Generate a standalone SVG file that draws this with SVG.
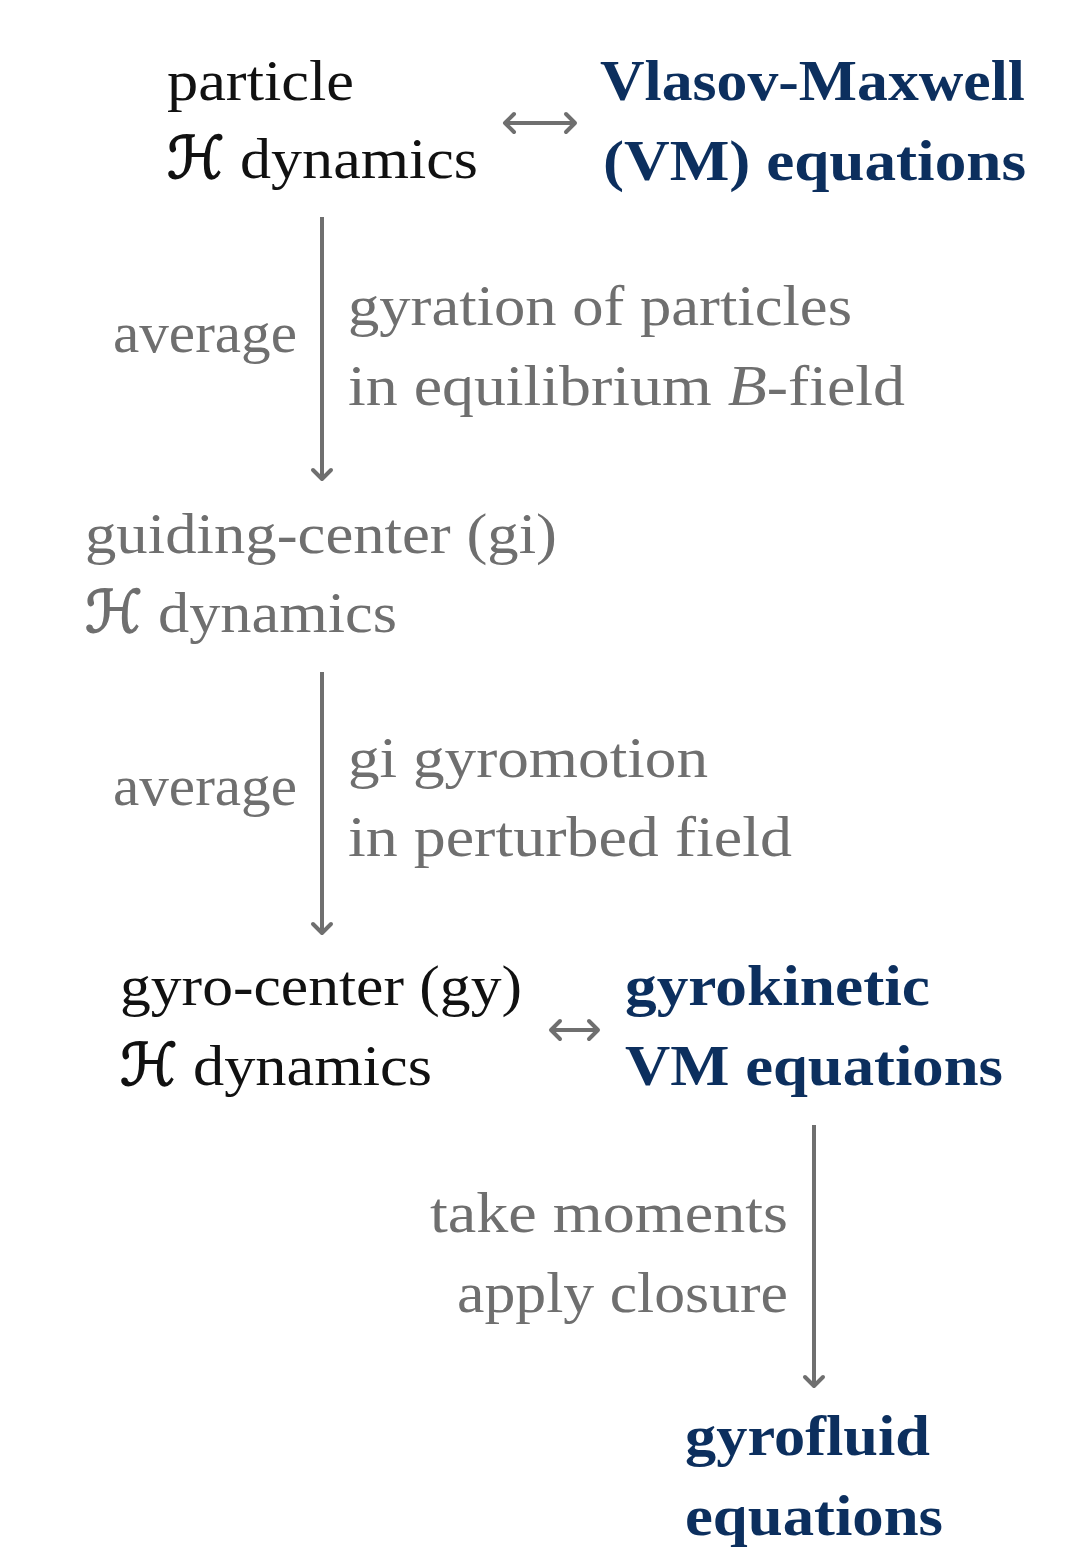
<svg xmlns="http://www.w3.org/2000/svg" width="1086" height="1548" viewBox="0 0 1086 1548">
<style>
text{font-family:"Liberation Serif",serif;font-size:58px}
.k{fill:#111}
.g{fill:#6f6f6f}
.b{fill:#0c2f5e;font-weight:bold}
.h{font-family:"DejaVu Serif","DejaVu Sans",serif;font-size:58px;stroke-width:1.6}
.k.h{stroke:#111}
.g.h{stroke:#6f6f6f}
.c{stroke:#6f6f6f;stroke-width:4;fill:none}
</style>
<defs>
<marker id="ah" viewBox="-14 -14 28 28" markerWidth="28" markerHeight="28" markerUnits="userSpaceOnUse" orient="auto-start-reverse">
<path d="M-9,-9 L0,0 L-9,9" stroke="#6f6f6f" stroke-width="4" fill="none" stroke-linecap="round" stroke-linejoin="round"/>
</marker>
</defs>
<rect width="1086" height="1548" fill="#fff"/>
<g id="particle">
<text class="k" x="167" y="100" textLength="187" lengthAdjust="spacingAndGlyphs">particle</text>
<text class="k h" x="167" y="178">ℋ</text>
<text class="k" x="240" y="178" textLength="238" lengthAdjust="spacingAndGlyphs">dynamics</text>
</g>
<g id="vm">
<text class="b" x="600" y="100" textLength="425" lengthAdjust="spacingAndGlyphs">Vlasov-Maxwell</text>
<text class="b" x="603" y="180" textLength="423" lengthAdjust="spacingAndGlyphs">(VM) equations</text>
</g>
<g id="label1">
<text class="g" x="113" y="352" textLength="184" lengthAdjust="spacingAndGlyphs">average</text>
<text class="g" x="348" y="325" textLength="504" lengthAdjust="spacingAndGlyphs">gyration of particles</text>
<text class="g" x="348" y="405" textLength="557" lengthAdjust="spacingAndGlyphs">in equilibrium <tspan font-style="italic">B</tspan>-field</text>
</g>
<g id="guiding">
<text class="g" x="85" y="553" textLength="472" lengthAdjust="spacingAndGlyphs">guiding-center (gi)</text>
<text class="g h" x="85" y="632">ℋ</text>
<text class="g" x="158" y="632" textLength="239" lengthAdjust="spacingAndGlyphs">dynamics</text>
</g>
<g id="label2">
<text class="g" x="113" y="805" textLength="184" lengthAdjust="spacingAndGlyphs">average</text>
<text class="g" x="348" y="777" textLength="360" lengthAdjust="spacingAndGlyphs">gi gyromotion</text>
<text class="g" x="348" y="856" textLength="444" lengthAdjust="spacingAndGlyphs">in perturbed field</text>
</g>
<g id="gyrocenter">
<text class="k" x="120" y="1005" textLength="402" lengthAdjust="spacingAndGlyphs">gyro-center (gy)</text>
<text class="k h" x="120" y="1085">ℋ</text>
<text class="k" x="193" y="1085" textLength="239" lengthAdjust="spacingAndGlyphs">dynamics</text>
</g>
<g id="gyrokinetic">
<text class="b" x="625" y="1005" textLength="305" lengthAdjust="spacingAndGlyphs">gyrokinetic</text>
<text class="b" x="625" y="1085" textLength="378" lengthAdjust="spacingAndGlyphs">VM equations</text>
</g>
<g id="label3">
<text class="g" x="430" y="1232" textLength="358" lengthAdjust="spacingAndGlyphs">take moments</text>
<text class="g" x="457" y="1312" textLength="331" lengthAdjust="spacingAndGlyphs">apply closure</text>
</g>
<g id="gyrofluid">
<text class="b" x="685" y="1455" textLength="245" lengthAdjust="spacingAndGlyphs">gyrofluid</text>
<text class="b" x="685" y="1535" textLength="258" lengthAdjust="spacingAndGlyphs">equations</text>
</g>
<g id="connectors">
<line class="c" x1="505" y1="123" x2="575" y2="123" marker-start="url(#ah)" marker-end="url(#ah)"/>
<line class="c" x1="322" y1="217" x2="322" y2="479" marker-end="url(#ah)"/>
<line class="c" x1="322" y1="672" x2="322" y2="933" marker-end="url(#ah)"/>
<line class="c" x1="551" y1="1030" x2="598" y2="1030" marker-start="url(#ah)" marker-end="url(#ah)"/>
<line class="c" x1="814" y1="1125" x2="814" y2="1386" marker-end="url(#ah)"/>
</g>
</svg>
